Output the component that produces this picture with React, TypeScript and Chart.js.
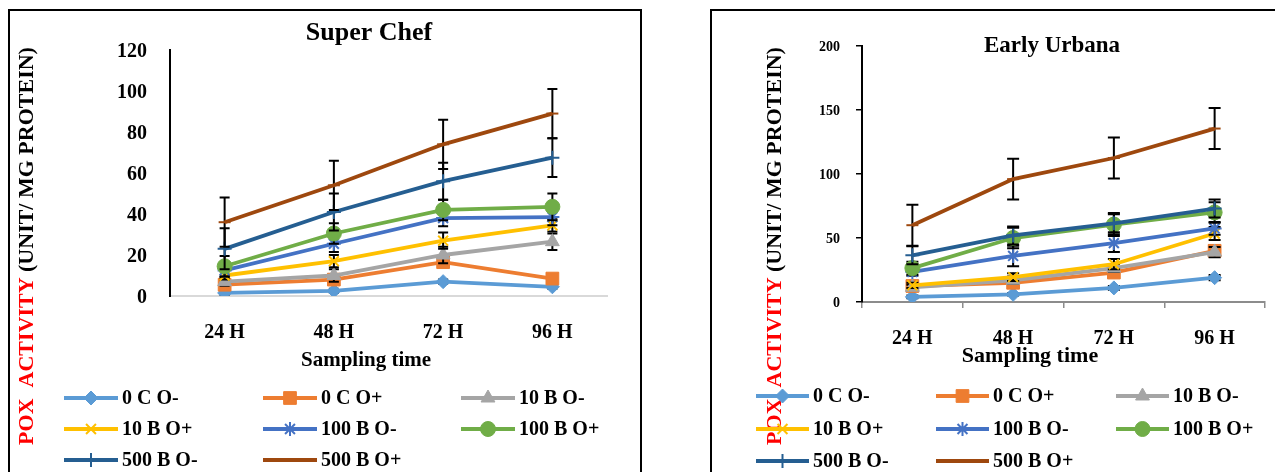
import React, { useEffect, useRef } from 'react';
import { Chart, registerables } from 'chart.js';
import { drawPoint } from 'chart.js/helpers';

Chart.register(...registerables);

// ---------- shared data ----------
const CATEGORIES = ['24 H', '48 H', '72 H', '96 H'];
const SERIES_NAMES = ['0 C O-', '0 C O+', '10 B O-', '10 B O+', '100 B O-', '100 B O+', '500 B O-', '500 B O+'];
const SERIES_COLORS = ['#5B9BD5', '#ED7D31', '#A5A5A5', '#FFC000', '#4472C4', '#70AD47', '#255E91', '#9E480E'];
const SERIES_MARKERS = ['rectRot', 'rect', 'triangle', 'crossRot', 'star', 'circle', 'cross', 'line'];
const MARKER_RADII = [7, 9, 8, 7, 7, 7.5, 7, 6];

// ---------- Super Chef ----------
const SC_TICKS = { min: 0, max: 120, step: 20 };
const SC_0C_OM = [1.5, 2.5, 7, 4.5];
const SC_0C_OP = [5.5, 8, 16.5, 8.5];
const SC_10B_OM = [7, 10, 20, 26.5];
const SC_10B_OP = [10, 17, 27, 34.5];
const SC_100B_OM = [12.5, 25.5, 38, 38.5];
const SC_100B_OP = [14.5, 30.5, 42, 43.5];
const SC_500B_OM = [23, 41, 56, 67.5];
const SC_500B_OP = [36, 54, 74, 89];

const SC_ERR_0C_OM = [1, 1, 1, 1];
const SC_ERR_0C_OP = [1.5, 1.5, 2, 1.5];
const SC_ERR_10B_OM = [2, 3, 4, 4];
const SC_ERR_10B_OP = [2, 3, 4, 3];
const SC_ERR_100B_OM = [3, 4, 4, 4];
const SC_ERR_100B_OP = [5, 5, 5, 6.5];
const SC_ERR_500B_OM = [10, 9, 9, 9.5];
const SC_ERR_500B_OP = [12, 12, 12, 12];

// ---------- Early Urbana ----------
const EU_TICKS = { min: 0, max: 200, step: 50 };
const EU_0C_OM = [4, 6, 11, 19];
const EU_0C_OP = [12.5, 15, 23, 40];
const EU_10B_OM = [11.5, 17, 26.5, 39];
const EU_10B_OP = [13, 19.5, 29.5, 53.5];
const EU_100B_OM = [23.5, 36, 46, 57.5];
const EU_100B_OP = [26.5, 50, 60.5, 70];
const EU_500B_OM = [36.5, 52, 61.5, 73];
const EU_500B_OP = [60, 96, 112.5, 135.5];

const EU_ERR_0C_OM = [1, 1, 1.5, 2];
const EU_ERR_0C_OP = [2, 3, 3, 4];
const EU_ERR_10B_OM = [2, 3, 3, 4];
const EU_ERR_10B_OP = [2, 3, 4, 5];
const EU_ERR_100B_OM = [3, 8, 7, 5];
const EU_ERR_100B_OP = [5, 8, 9, 8];
const EU_ERR_500B_OM = [7, 7, 7, 7];
const EU_ERR_500B_OP = [16, 16, 16, 16];

const SC_VALUES = [SC_0C_OM, SC_0C_OP, SC_10B_OM, SC_10B_OP, SC_100B_OM, SC_100B_OP, SC_500B_OM, SC_500B_OP];
const SC_ERRORS = [SC_ERR_0C_OM, SC_ERR_0C_OP, SC_ERR_10B_OM, SC_ERR_10B_OP, SC_ERR_100B_OM, SC_ERR_100B_OP, SC_ERR_500B_OM, SC_ERR_500B_OP];
const EU_VALUES = [EU_0C_OM, EU_0C_OP, EU_10B_OM, EU_10B_OP, EU_100B_OM, EU_100B_OP, EU_500B_OM, EU_500B_OP];
const EU_ERRORS = [EU_ERR_0C_OM, EU_ERR_0C_OP, EU_ERR_10B_OM, EU_ERR_10B_OP, EU_ERR_100B_OM, EU_ERR_100B_OP, EU_ERR_500B_OM, EU_ERR_500B_OP];

const FONT = '"Liberation Serif", "Times New Roman", Times, serif';

const errorBarPlugin = {
  id: 'errorBars',
  beforeDatasetDraw(chart: any, args: any, opts: any) {
    const ds = chart.data.datasets[args.index];
    const errs = ds.errors;
    if (!errs) return;
    const y = chart.scales.y;
    const ctx = chart.ctx;
    ctx.save();
    ctx.strokeStyle = '#000';
    ctx.lineWidth = opts.lineWidth || 2;
    const cw = opts.cap || 5;
    args.meta.data.forEach((pt: any, i: number) => {
      const v = ds.data[i];
      const e = errs[i];
      const yt = y.getPixelForValue(v + e);
      const yb = y.getPixelForValue(Math.max(v - e, 0));
      const x = pt.x;
      ctx.beginPath();
      ctx.moveTo(x, yt);
      ctx.lineTo(x, yb);
      ctx.moveTo(x - cw, yt);
      ctx.lineTo(x + cw, yt);
      ctx.moveTo(x - cw, yb);
      ctx.lineTo(x + cw, yb);
      ctx.stroke();
    });
    ctx.restore();
  },
};

const decorPlugin = {
  id: 'decor',
  afterDraw(chart: any, _args: any, o: any) {
    const ctx = chart.ctx;
    ctx.save();
    ctx.fillStyle = '#000';
    ctx.textBaseline = 'middle';
    // title
    ctx.textAlign = 'center';
    ctx.font = `bold ${o.title.size}px ${FONT}`;
    ctx.fillText(o.title.text, o.title.x, o.title.y);
    // x title
    ctx.font = `bold ${o.xTitle.size}px ${FONT}`;
    ctx.fillText(o.xTitle.text, o.xTitle.x, o.xTitle.y);
    // y title (two colours)
    ctx.save();
    ctx.translate(o.yTitle.x, o.yTitle.y);
    ctx.rotate(-Math.PI / 2);
    ctx.font = `bold ${o.yTitle.size}px ${FONT}`;
    ctx.textAlign = 'left';
    const w1 = ctx.measureText(o.yTitle.red).width;
    const w2 = ctx.measureText(o.yTitle.black).width;
    const start = -(w1 + w2) / 2;
    ctx.fillStyle = '#FF0000';
    ctx.fillText(o.yTitle.red, start, 0);
    ctx.fillStyle = '#000';
    ctx.fillText(o.yTitle.black, start + w1, 0);
    ctx.restore();
    // legend
    const lg = o.legend;
    ctx.font = `bold ${lg.size}px ${FONT}`;
    ctx.textAlign = 'left';
    chart.data.datasets.forEach((ds: any, i: number) => {
      const col = i % 3;
      const row = Math.floor(i / 3);
      const x0 = lg.cols[col];
      const y0 = lg.rows[row];
      ctx.strokeStyle = ds.borderColor;
      ctx.lineWidth = ds.borderWidth;
      ctx.beginPath();
      ctx.moveTo(x0, y0);
      ctx.lineTo(x0 + lg.lineLen, y0);
      ctx.stroke();
      ctx.fillStyle = ds.pointBackgroundColor;
      ctx.strokeStyle = ds.pointBorderColor;
      ctx.lineWidth = ds.pointBorderWidth;
      drawPoint(ctx, { pointStyle: ds.pointStyle, radius: ds.pointRadius, rotation: 0, borderWidth: ds.pointBorderWidth }, x0 + lg.lineLen / 2, y0);
      ctx.fillStyle = '#000';
      ctx.fillText(ds.label, x0 + lg.lineLen + lg.gap, y0 + 1);
    });
    ctx.restore();
  },
};

function buildDatasets(values: number[][], errors: number[][], lineWidth: number) {
  return SERIES_NAMES.map((name, i) => {
    const style = SERIES_MARKERS[i];
    const strokeOnly = style === 'crossRot' || style === 'star' || style === 'cross' || style === 'line';
    return {
      label: name,
      data: values[i],
      errors: errors[i],
      borderColor: SERIES_COLORS[i],
      backgroundColor: SERIES_COLORS[i],
      pointBackgroundColor: SERIES_COLORS[i],
      pointBorderColor: SERIES_COLORS[i],
      pointStyle: style,
      pointRadius: MARKER_RADII[i],
      pointBorderWidth: strokeOnly ? 2 : 1,
      borderWidth: lineWidth,
      tension: 0,
      fill: false,
      order: SERIES_NAMES.length - i,
    };
  });
}

function superChefConfig(): any {
  const tickFont = { family: FONT, size: 20, weight: 'bold' as const };
  return {
    type: 'line',
    data: { labels: CATEGORIES, datasets: buildDatasets(SC_VALUES, SC_ERRORS, 3.8) },
    options: {
      animation: false,
      responsive: false,
      events: [],
      layout: { padding: { left: 0, top: 50, right: 53, bottom: 126 } },
      plugins: {
        legend: { display: false },
        tooltip: { enabled: false },
        errorBars: { lineWidth: 2, cap: 5 },
        decor: {
          title: { text: 'Super Chef', x: 369, y: 33, size: 26 },
          xTitle: { text: 'Sampling time', x: 366, y: 361, size: 21 },
          yTitle: { red: 'POX  ACTIVITY', black: ' (UNIT/ MG PROTEIN)', x: 27, y: 246, size: 22 },
          legend: { cols: [64, 263, 461], rows: [398, 429, 460], lineLen: 54, gap: 4, size: 20 },
        },
      },
      scales: {
        x: {
          type: 'category',
          offset: true,
          grid: { display: false, drawTicks: false },
          border: { display: true, color: '#D9D9D9', width: 2 },
          ticks: { font: tickFont, color: '#000', padding: 25, maxRotation: 0, autoSkip: false },
          afterFit: (s: any) => { s.height = 50; },
        },
        y: {
          min: SC_TICKS.min,
          max: SC_TICKS.max,
          grid: { display: false, drawTicks: false },
          border: { display: true, color: '#000', width: 2 },
          ticks: { stepSize: SC_TICKS.step, font: tickFont, color: '#000', padding: 23, labelOffset: 2 },
          afterFit: (s: any) => { s.width = 170; },
        },
      },
    },
    plugins: [errorBarPlugin, decorPlugin],
  };
}

function earlyUrbanaConfig(): any {
  const tickFont = { family: FONT, size: 20, weight: 'bold' as const };
  const yFont = { family: FONT, size: 14, weight: 'bold' as const };
  return {
    type: 'line',
    data: { labels: CATEGORIES, datasets: buildDatasets(EU_VALUES, EU_ERRORS, 3.8) },
    options: {
      animation: false,
      responsive: false,
      events: [],
      layout: { padding: { left: 0, top: 46, right: 7, bottom: 120 } },
      plugins: {
        legend: { display: false },
        tooltip: { enabled: false },
        errorBars: { lineWidth: 2, cap: 6 },
        decor: {
          title: { text: 'Early Urbana', x: 392, y: 46, size: 23 },
          xTitle: { text: 'Sampling time', x: 370, y: 356, size: 22 },
          yTitle: { red: 'POX  ACTIVITY', black: ' (UNIT/ MG PROTEIN)', x: 115, y: 246, size: 22 },
          legend: { cols: [96, 276, 456], rows: [396, 429, 461], lineLen: 53, gap: 4, size: 20 },
        },
      },
      scales: {
        x: {
          type: 'category',
          offset: true,
          grid: { display: true, drawOnChartArea: false, drawTicks: true, tickLength: 6, color: '#8C8C8C', lineWidth: 1.5, offset: true },
          border: { display: true, color: '#8C8C8C', width: 2 },
          ticks: { font: tickFont, color: '#000', padding: 19, maxRotation: 0, autoSkip: false },
          afterFit: (s: any) => { s.height = 50; },
        },
        y: {
          min: EU_TICKS.min,
          max: EU_TICKS.max,
          grid: { display: true, drawOnChartArea: false, drawTicks: true, tickLength: 6, color: '#000', lineWidth: 1.5 },
          border: { display: true, color: '#000', width: 2 },
          ticks: { stepSize: EU_TICKS.step, font: yFont, color: '#000', padding: 16, labelOffset: 1 },
          afterFit: (s: any) => { s.width = 202; },
        },
      },
    },
    plugins: [errorBarPlugin, decorPlugin],
  };
}

function ChartCanvas({ makeConfig, left, width }: { makeConfig: () => any; left: number; width: number }) {
  const ref = useRef<HTMLCanvasElement>(null);
  useEffect(() => {
    const chart = new Chart(ref.current as HTMLCanvasElement, makeConfig());
    return () => chart.destroy();
  }, []);
  return (
    <canvas
      ref={ref}
      width={width}
      height={472}
      style={{ position: 'absolute', left, top: 0, width, height: 472 }}
    />
  );
}

export default function App() {
  return (
    <div style={{ position: 'fixed', left: 0, top: 0, width: 1275, height: 472, overflow: 'hidden', background: '#fff' }}>
      <div style={{ position: 'absolute', left: 8, top: 9, width: 634, height: 520, border: '2px solid #000', boxSizing: 'border-box' }} />
      <div style={{ position: 'absolute', left: 710, top: 9, width: 620, height: 520, border: '2px solid #000', boxSizing: 'border-box' }} />
      <ChartCanvas makeConfig={superChefConfig} left={0} width={660} />
      <ChartCanvas makeConfig={earlyUrbanaConfig} left={660} width={615} />
    </div>
  );
}
